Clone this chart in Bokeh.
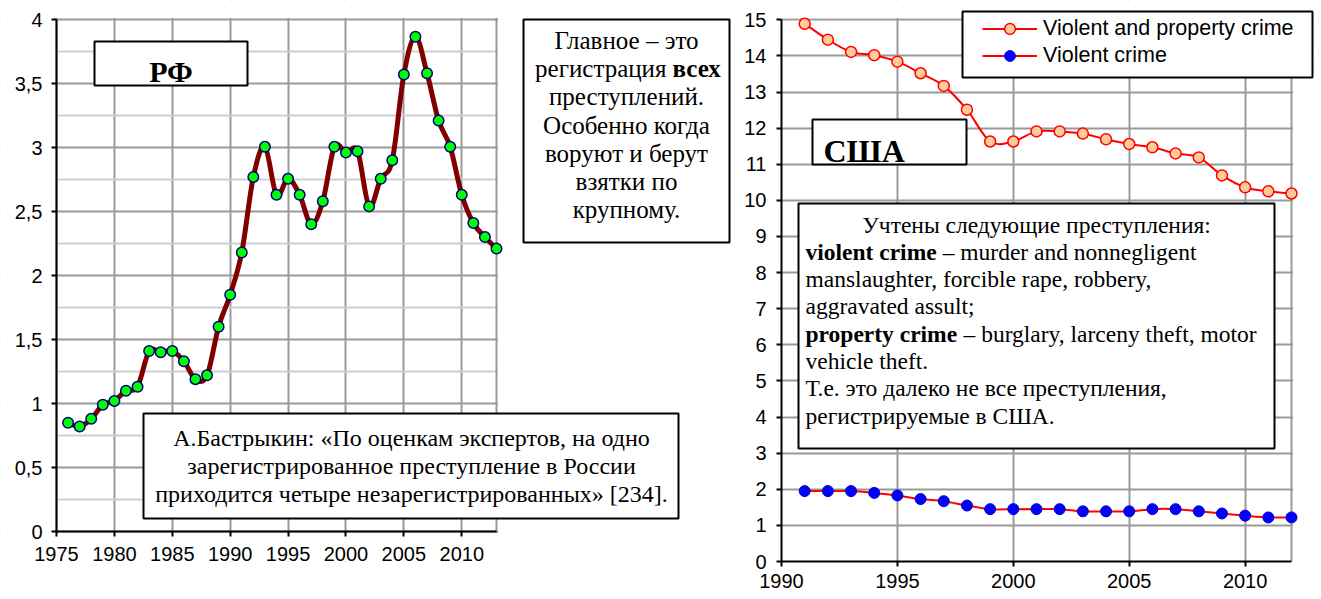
from bokeh.plotting import figure
from bokeh.models import (Range1d, FixedTicker, CustomJSTickFormatter, BoxAnnotation,
                          Label, Legend, LegendItem, Span)
from bokeh.layouts import row
from bokeh.embed import file_html
from bokeh.resources import INLINE

# ---------------- data ----------------
rf_years = list(range(1976, 2014))
rf_ratio = [0.85, 0.82, 0.88, 0.99, 1.02, 1.10, 1.13, 1.41, 1.40, 1.41, 1.33, 1.19, 1.22, 1.60,
            1.85, 2.18, 2.77, 3.005, 2.63, 2.755, 2.63, 2.40, 2.58, 3.005, 2.96, 2.97, 2.54,
            2.755, 2.90, 3.57, 3.865, 3.58, 3.21, 3.005, 2.63, 2.41, 2.30, 2.21]

us_years = list(range(1991, 2013))
us_violent_property = [14.89, 14.45, 14.11, 14.02, 13.84, 13.52, 13.17, 12.51, 11.63, 11.63, 11.91,
                       11.91, 11.85, 11.69, 11.56, 11.47, 11.30, 11.19, 10.69, 10.36, 10.25, 10.19]
us_violent = [1.95, 1.95, 1.95, 1.90, 1.83, 1.73, 1.67, 1.55, 1.45, 1.45, 1.45, 1.45, 1.39, 1.39,
              1.39, 1.45, 1.45, 1.39, 1.33, 1.27, 1.22, 1.22]

rf_xticks = [1975, 1980, 1985, 1990, 1995, 2000, 2005, 2010]
rf_yticks = [0, 0.5, 1, 1.5, 2, 2.5, 3, 3.5, 4]
rf_yminor = [0.25, 0.75, 1.25, 1.75, 2.25, 2.75, 3.25, 3.75]
us_xticks = [1990, 1995, 2000, 2005, 2010]
us_yticks = list(range(0, 16))

series_names = ["Violent and property crime", "Violent crime"]

rf_title = "РФ"
us_title = "США"
main_lines = ["Главное – это", ["регистрация", "всех"], "преступлений.", "Особенно когда",
              "воруют и берут", "взятки по", "крупному."]
quote_lines = ["А.Бастрыкин: «По оценкам экспертов, на одно",
               "зарегистрированное преступление в России",
               "приходится четыре незарегистрированных» [234]."]
us_lines = [("center", None, "Учтены следующие преступления:"),
            ("left", "violent crime", "– murder and nonnegligent"),
            ("left", None, "manslaughter, forcible rape, robbery,"),
            ("left", None, "aggravated assult;"),
            ("left", "property crime", "– burglary, larceny theft, motor"),
            ("left", None, "vehicle theft."),
            ("left", None, "Т.е. это далеко не все преступления,"),
            ("left", None, "регистрируемые в США.")]

SANS = "Liberation Sans"
SERIF = "Liberation Serif"
GRID = "#999999"
MINOR = "#D0D0D0"


def smooth(xs, ys):
    n = len(xs)
    d = dict(x0=[], y0=[], x1=[], y1=[], cx0=[], cy0=[], cx1=[], cy1=[])
    for i in range(n - 1):
        a = max(i - 1, 0)
        b = min(i + 2, n - 1)
        d["x0"].append(xs[i]); d["y0"].append(ys[i])
        d["x1"].append(xs[i + 1]); d["y1"].append(ys[i + 1])
        d["cx0"].append(xs[i] + (xs[i + 1] - xs[a]) / 6)
        d["cy0"].append(ys[i] + (ys[i + 1] - ys[a]) / 6)
        d["cx1"].append(xs[i + 1] - (xs[b] - xs[i]) / 6)
        d["cy1"].append(ys[i + 1] - (ys[b] - ys[i]) / 6)
    return d


def style_axes(p):
    for ax in (p.xaxis[0], p.yaxis[0]):
        ax.axis_line_color = "black"
        ax.axis_line_width = 2
        ax.major_tick_line_color = "black"
        ax.major_tick_line_width = 2
        ax.major_tick_out = 5
        ax.major_tick_in = 0
        ax.minor_tick_line_color = None
        ax.major_label_text_font = SANS
        ax.major_label_text_font_size = "20px"
        ax.major_label_text_color = "black"
    p.xgrid.grid_line_color = GRID
    p.xgrid.grid_line_width = 2
    p.ygrid.grid_line_color = GRID
    p.ygrid.grid_line_width = 2


def box(p, fl, fb, x0, y0, x1, y1, lw=2):
    p.add_layout(BoxAnnotation(left=x0 - fl, right=x1 - fl, top=fb - y0, bottom=fb - y1,
                               left_units="screen", right_units="screen",
                               top_units="screen", bottom_units="screen",
                               fill_color="white", fill_alpha=1.0,
                               line_color="black", line_width=lw, line_alpha=1.0))


def text(p, fl, fb, x, y, s, size, align="left", bold=False, font=SERIF):
    p.add_layout(Label(x=x - fl, y=fb - y, x_units="screen", y_units="screen", text=s,
                       text_font=font, text_font_size=f"{size}px",
                       text_font_style="bold" if bold else "normal",
                       text_align=align, text_baseline="alphabetic", text_color="black"))


def white(p, **kw):
    p.add_layout(BoxAnnotation(fill_color="white", fill_alpha=1.0, line_alpha=0,
                               level="underlay", **kw))


H = 599
FB = 561          # shared frame bottom (rows align frames)
BORDER_B = H - FB

# ---------------- left chart (РФ) ----------------
L_W = 733
L_FL = 0                                           # frame starts at the page edge
L_X0 = 56                                          # page x of 1975
L_Y0 = 531                                         # page y of value 0
L_PPX = 440 / 38.0                                 # px per year
L_PPY = 512 / 4.0                                  # px per unit
lx_start = 1975 - (L_X0 - L_FL) / L_PPX
lx_end = 1975 + (L_W - L_X0) / L_PPX
ly_start = -(FB - L_Y0) / L_PPY
ly_end = L_Y0 / L_PPY

p1 = figure(width=L_W, height=H, x_range=Range1d(lx_start, lx_end),
            y_range=Range1d(ly_start, ly_end),
            output_backend="svg", toolbar_location=None, title=None,
            min_border_left=0, min_border_right=0,
            min_border_top=0, min_border_bottom=BORDER_B)
p1.outline_line_color = None
p1.background_fill_color = "white"
p1.border_fill_color = "white"
p1.xaxis.ticker = FixedTicker(ticks=rf_xticks)
p1.yaxis.ticker = FixedTicker(ticks=rf_yticks, minor_ticks=rf_yminor)
p1.yaxis.formatter = CustomJSTickFormatter(code="return tick.toString().replace('.', ',');")
style_axes(p1)
p1.ygrid.minor_grid_line_color = MINOR
p1.ygrid.minor_grid_line_width = 2
p1.xaxis.fixed_location = 0
p1.yaxis.fixed_location = 1975
p1.xaxis.bounds = (1975, 2013)
p1.yaxis.bounds = (0, 4)
p1.xaxis.major_label_standoff = 10
p1.yaxis.major_label_standoff = 9
p1.add_layout(Span(location=2013, dimension="height", line_color=GRID, line_width=2,
                   level="underlay"))
white(p1, left=2013 + 1.5 / L_PPX)
white(p1, right=1975 - 1.5 / L_PPX)
white(p1, bottom=4 + 1.5 / L_PPY)
white(p1, top=0 - 1.5 / L_PPY)

p1.bezier(line_color="#800000", line_width=5, line_cap="round",
          **smooth(rf_years, rf_ratio))
p1.scatter(rf_years, rf_ratio, marker="circle", size=10.5, fill_color="#00FF00",
           line_color="#000080", line_width=1.5)

# annotations
box(p1, L_FL, FB, 94, 41, 247, 85)
text(p1, L_FL, FB, 170.5, 71, rf_title, 30, "center", bold=True)

box(p1, L_FL, FB, 523, 19, 729, 242)
for i, ln in enumerate(main_lines):
    y = 40 + 28.2 * i
    if isinstance(ln, list):
        text(p1, L_FL, FB, 666, y, ln[0], 25, "right")
        text(p1, L_FL, FB, 672, y, ln[1], 25, "left", bold=True)
    else:
        text(p1, L_FL, FB, 626, y, ln, 25, "center")

box(p1, L_FL, FB, 143, 413, 678, 518)
for i, ln in enumerate(quote_lines):
    text(p1, L_FL, FB, 411, 437 + 28 * i, ln, 24, "center")

# ---------------- right chart (США) ----------------
R_OFF = 733
R_W = 1321 - R_OFF
R_FL = 781
R_PPX = 510 / 22.0
R_PPY = 541.7 / 15.0
rx_end = 1990 + (1318 - R_FL) / R_PPX
ry_end = FB / R_PPY

p2 = figure(width=R_W, height=H, x_range=Range1d(1990, rx_end), y_range=Range1d(0, ry_end),
            output_backend="svg", toolbar_location=None, title=None,
            min_border_left=R_FL - R_OFF, min_border_right=3,
            min_border_top=0, min_border_bottom=BORDER_B)
p2.outline_line_color = None
p2.background_fill_color = "white"
p2.border_fill_color = "white"
p2.xaxis.ticker = FixedTicker(ticks=us_xticks)
p2.yaxis.ticker = FixedTicker(ticks=us_yticks)
style_axes(p2)
p2.xaxis.bounds = (1990, 2012)
p2.yaxis.bounds = (0, 15)
p2.xaxis.major_label_standoff = 7
p2.yaxis.major_label_standoff = 10
p2.add_layout(Span(location=2012, dimension="height", line_color=GRID, line_width=2,
                   level="underlay"))
white(p2, left=2012 + 1.5 / R_PPX)
white(p2, bottom=15 + 1.5 / R_PPY)

b1 = p2.bezier(line_color="red", line_width=2, **smooth(us_years, us_violent_property))
b2 = p2.bezier(line_color="red", line_width=2, **smooth(us_years, us_violent))
s1 = p2.scatter(us_years, us_violent_property, marker="circle", size=11,
                fill_color="#FFCC99", line_color="red", line_width=1.5)
s2 = p2.scatter(us_years, us_violent, marker="circle", size=11,
                fill_color="#0000FF", line_color="#0000CC", line_width=1)

# legend frame + legend
box(p2, R_FL, FB, 962, 11, 1312, 77)
legend = Legend(items=[LegendItem(label=series_names[0], renderers=[b1, s1]),
                       LegendItem(label=series_names[1], renderers=[b2, s2])],
                location=(982 - R_FL, FB - 14.5 - 54),
                padding=0, margin=0, spacing=0, glyph_width=55, glyph_height=27,
                label_height=27, label_standoff=6,
                label_text_font=SANS, label_text_font_size="21.5px",
                label_text_color="black",
                border_line_alpha=0, background_fill_alpha=0)
p2.add_layout(legend)

box(p2, R_FL, FB, 812, 119, 966, 164)
text(p2, R_FL, FB, 823, 150, us_title, 32, "left", bold=True)

box(p2, R_FL, FB, 798, 203, 1274, 448)
bold_w = {"violent crime": 5.582, "property crime": 6.47}
for i, (al, bld, rest) in enumerate(us_lines):
    y = 224 + 27.3 * i
    if al == "center":
        text(p2, R_FL, FB, 1036, y, rest, 23.5, "center")
    elif bld is None:
        text(p2, R_FL, FB, 805, y, rest, 23.5, "left")
    else:
        text(p2, R_FL, FB, 805, y, bld, 23.5, "left", bold=True)
        text(p2, R_FL, FB, 805 + bold_w[bld] * 23.5 + 6, y, rest, 23.5, "left")

layout = row(p1, p2)
open("out.html", "w").write(file_html(layout, INLINE))
